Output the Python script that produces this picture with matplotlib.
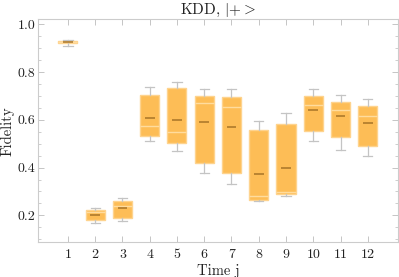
import numpy as np
import matplotlib
matplotlib.use("Agg")
import matplotlib.pyplot as plt
from matplotlib.ticker import MultipleLocator

plt.rcParams['font.family'] = ['cmr10', 'DejaVu Serif']
plt.rcParams['mathtext.fontset'] = 'cm'
plt.rcParams['axes.formatter.use_mathtext'] = True

# summary stats, one value per time step
times = [1, 2, 3, 4, 5, 6, 7, 8, 9, 10, 11, 12]
mins = [0.909, 0.169, 0.178, 0.512, 0.470, 0.378, 0.332, 0.261, 0.279, 0.512, 0.475, 0.449]
q1s = [0.920, 0.181, 0.188, 0.533, 0.504, 0.420, 0.379, 0.266, 0.290, 0.553, 0.526, 0.491]
medians = [0.925, 0.213, 0.241, 0.572, 0.548, 0.672, 0.655, 0.280, 0.297, 0.663, 0.642, 0.614]
q3s = [0.929, 0.223, 0.262, 0.705, 0.733, 0.701, 0.697, 0.557, 0.582, 0.698, 0.673, 0.657]
maxs = [0.934, 0.230, 0.273, 0.737, 0.760, 0.730, 0.730, 0.596, 0.630, 0.730, 0.704, 0.688]
means = [0.924, 0.203, 0.231, 0.607, 0.597, 0.592, 0.568, 0.374, 0.399, 0.639, 0.614, 0.588]

stats = []
for i in range(len(times)):
    stats.append({'whislo': mins[i], 'q1': q1s[i], 'med': medians[i],
                  'q3': q3s[i], 'whishi': maxs[i]})

fig, ax = plt.subplots(figsize=(3.99, 2.77), dpi=100)
fig.subplots_adjust(left=0.095, right=0.997, top=0.93, bottom=0.125)

gray = '#c4c4c4'
ax.bxp(stats, positions=times, widths=0.7, patch_artist=True, showfliers=False,
       boxprops=dict(facecolor='#fdbd56', edgecolor='#fed38e', linewidth=1.0),
       medianprops=dict(color='#ffdc9e', linewidth=1.0),
       whiskerprops=dict(color=gray, linewidth=0.9),
       capprops=dict(color=gray, linewidth=0.9), capwidths=0.34)
ax.hlines(means, np.array(times) - 0.18, np.array(times) + 0.18,
          color='#a87428', linewidth=1.1, zorder=4)

ax.set_xlim(-0.1, 13.1)
ax.set_ylim(0.087, 1.02)
ax.set_xticks(times)
ax.set_xticklabels([str(t) for t in times])
ax.yaxis.set_minor_locator(MultipleLocator(0.05))
ax.set_yticks([0.2, 0.4, 0.6, 0.8, 1.0])
ax.set_yticklabels(['0.2', '0.4', '0.6', '0.8', '1.0'])

for s in ax.spines.values():
    s.set_color('#cccccc')
    s.set_linewidth(0.8)
ax.tick_params(axis='both', which='both', direction='in', color='#bbbbbb',
               top=True, right=True, labelsize=10, labelcolor='#222222')
ax.tick_params(which='major', length=4, width=0.6)
ax.tick_params(which='minor', length=2, width=0.5)
ax.tick_params(axis='x', pad=5)
ax.tick_params(axis='y', pad=2)

ax.set_title(r'KDD, $|{+}{>}$', fontsize=11, color='#222222', pad=3)
ax.set_xlabel('Time j', fontsize=10.5, color='#222222', labelpad=2)
ax.set_ylabel('Fidelity', fontsize=10.5, color='#222222', labelpad=2)

fig.savefig('out.png', dpi=100)
